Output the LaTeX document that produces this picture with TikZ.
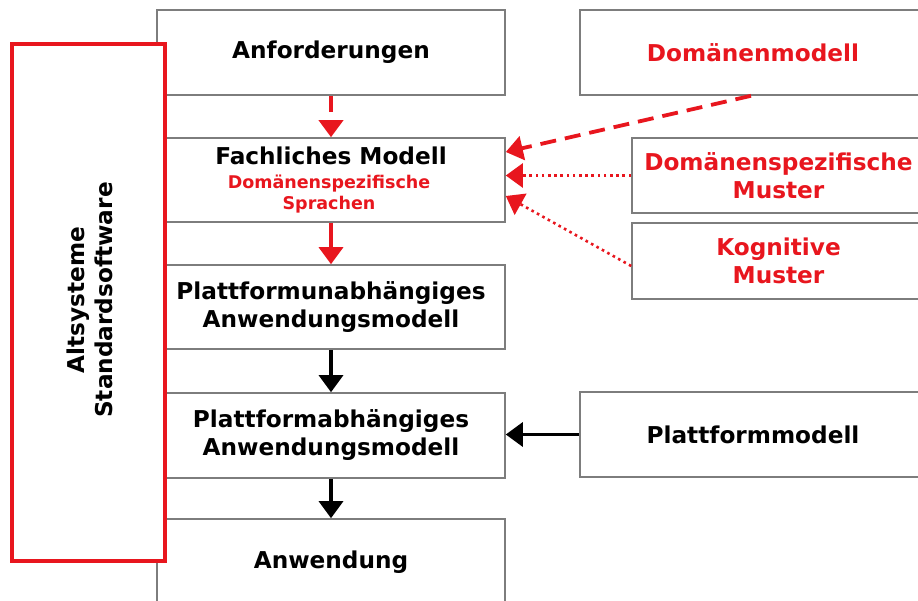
\documentclass[tikz,border=0pt]{standalone}
\usepackage{fontspec}
\setmainfont{DejaVu Sans}
\usetikzlibrary{arrows.meta,calc}
\definecolor{myred}{RGB}{232,22,30}
\definecolor{boxgray}{RGB}{125,125,125}
\tikzset{
  box/.style={draw=boxgray, line width=1.6pt, fill=white, inner sep=0pt, align=center,
    font=\fontsize{23.2}{28}\selectfont\bfseries},
  redtxt/.style={text=myred},
  smalltxt/.style={inner sep=0pt, text=myred, font=\fontsize{17.5}{21}\selectfont\bfseries},
  bigtxt/.style={inner sep=0pt, font=\fontsize{23.2}{28}\selectfont\bfseries},
  tip/.style={-{Triangle[width=24pt,length=17pt]}},
  redsolid/.style={tip, draw=myred, line width=3.5pt},
  reddash/.style={tip, draw=myred, line width=3.8pt, dash pattern=on 16pt off 9pt},
  reddot/.style={tip, draw=myred, line width=2.6pt, dash pattern=on 2.6pt off 3.6pt},
  blacksolid/.style={tip, draw=black, line width=3.2pt},
}
\begin{document}
\begin{tikzpicture}[x=1pt,y=-1pt]
\path[use as bounding box, fill=white] (0,0) rectangle (918,601);
\clip (0,0) rectangle (918,601);

% left column
\node[box, minimum width=348pt, minimum height=85pt] (anf) at (331,52.5) {Anforderungen};
\node[box, minimum width=348pt, minimum height=84pt] (fach) at (331,180) {};
\node[bigtxt, anchor=base] (fachT) at (331,165) {Fachliches Modell};
\node[smalltxt, anchor=base] (fachS1) at (329,189) {Domänenspezifische};
\node[smalltxt, anchor=base] (fachS2) at (329,210) {Sprachen};
\node[box, minimum width=348pt, minimum height=84pt] (pu) at (331,307) {Plattformunabhängiges\\Anwendungsmodell};
\node[box, minimum width=348pt, minimum height=85pt] (pa) at (331,435.5) {Plattformabhängiges\\Anwendungsmodell};
\node[box, minimum width=348pt, minimum height=91pt] (anw) at (331,564.5) {};
\node[bigtxt] (anwT) at (331,562) {Anwendung};

% right column
\node[box, redtxt, minimum width=346pt, minimum height=85pt] (dom) at (753,52.5) {Domänenmodell};
\node[box, redtxt, minimum width=293pt, minimum height=75pt] (dsm) at (778.5,175.5) {Domänenspezifische\\Muster};
\node[box, redtxt, minimum width=293pt, minimum height=76pt] (kog) at (778.5,261) {Kognitive\\Muster};
\node[box, minimum width=346pt, minimum height=85pt] (pm) at (753,434.5) {Plattformmodell};

% legacy box
\node[draw=myred, line width=3.2pt, fill=white, minimum width=153pt, minimum height=517pt, inner sep=0pt] (alt) at (88.5,302.5) {};
\node[bigtxt, rotate=90, align=center] (altT) at (90,300) {Altsysteme\\Standardsoftware};

% connectors
\draw[reddash] (anf.south) -- (fach.north);
\draw[redsolid] (fach.south) -- (pu.north);
\draw[blacksolid] (pu.south) -- (pa.north);
\draw[blacksolid] (pa.south) -- (anw.north);
\draw[reddash] ([xshift=-2pt]dom.south) -- ([yshift=28pt]fach.east);
\draw[reddot] (dsm.west) -- (dsm.west -| fach.east);
\draw[reddot] ([yshift=-5pt]kog.west) -- ([yshift=-16pt]fach.east);
\draw[blacksolid] (pm.west) -- (pm.west -| pa.east);
\end{tikzpicture}
\end{document}
